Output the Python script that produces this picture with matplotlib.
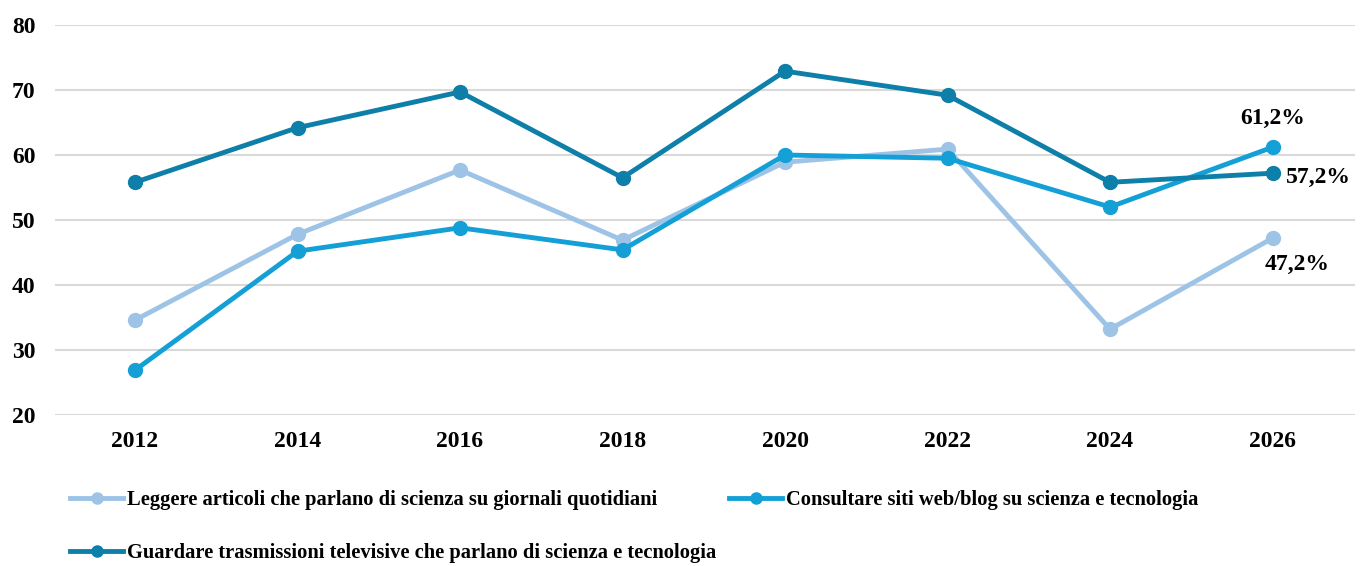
import matplotlib
matplotlib.use("Agg")
import matplotlib.pyplot as plt

# data
anni = [2012, 2014, 2016, 2018, 2020, 2022, 2024, 2026]
giornali = [34.6, 47.8, 57.7, 46.9, 58.9, 60.9, 33.2, 47.2]
siti_web = [26.9, 45.2, 48.8, 45.4, 60.0, 59.5, 52.0, 61.2]
televisione = [55.8, 64.2, 69.7, 56.5, 72.9, 69.2, 55.8, 57.2]
etichette = ["Leggere articoli che parlano di scienza su giornali quotidiani",
             "Consultare siti web/blog su scienza e tecnologia",
             "Guardare trasmissioni televisive che parlano di scienza e tecnologia"]
yticks = [20, 30, 40, 50, 60, 70, 80]

colori = ["#9DC3E6", "#14A0D6", "#0E7FA8"]

plt.rcParams['font.family'] = ['Liberation Serif', 'DejaVu Serif']
plt.rcParams['font.weight'] = 'bold'

fig = plt.figure(figsize=(13.62, 5.66), dpi=100)
ax = fig.add_axes([55 / 1362, 1 - 415 / 566, 1300 / 1362, 390 / 566])

serie = [giornali, siti_web, televisione]
handles = []
for vals, col, lab in zip(serie, colori, etichette):
    h, = ax.plot(anni, vals, color=col, linewidth=3.5, marker='o',
                 markersize=10, label=lab, zorder=3)
    handles.append(h)

ax.set_ylim(20, 80)
ax.set_xlim(2011.015, 2027.015)
ax.set_yticks(yticks)
ax.set_xticks(anni)
ax.grid(axis='y', color='#D9D9D9', linewidth=1.5)
ax.set_axisbelow(True)
for s in ax.spines.values():
    s.set_visible(False)
ax.tick_params(length=0, labelsize=17)
ax.tick_params(axis='x', pad=11.5)
ax.tick_params(axis='y', pad=14)
for t in ax.get_xticklabels() + ax.get_yticklabels():
    t.set_fontweight('bold')

# etichette finali
ax.annotate("61,2%", (anni[-1], siti_web[-1]), xytext=(0, 13),
            textcoords='offset points', ha='center', va='bottom',
            fontsize=17, fontweight='bold')
ax.annotate("57,2%", (anni[-1], televisione[-1]), xytext=(10, -3),
            textcoords='offset points', ha='left', va='center',
            fontsize=17, fontweight='bold')
ax.annotate("47,2%", (anni[-1], giornali[-1]), xytext=(-6, -11),
            textcoords='offset points', ha='left', va='top',
            fontsize=17, fontweight='bold')

# legenda, una voce per volta
posizioni = [(70 / 1362, 1 - 500 / 566), (729 / 1362, 1 - 500 / 566),
             (70 / 1362, 1 - 553 / 566)]
for h, (px, py) in zip(handles, posizioni):
    fig.legend(handles=[h], loc='center left', bbox_to_anchor=(px, py),
               frameon=False, handlelength=2.6, handletextpad=0.15,
               borderaxespad=0, borderpad=0, markerscale=0.8,
               prop={'size': 14.8, 'weight': 'bold'})

fig.savefig("out.png", dpi=100)
